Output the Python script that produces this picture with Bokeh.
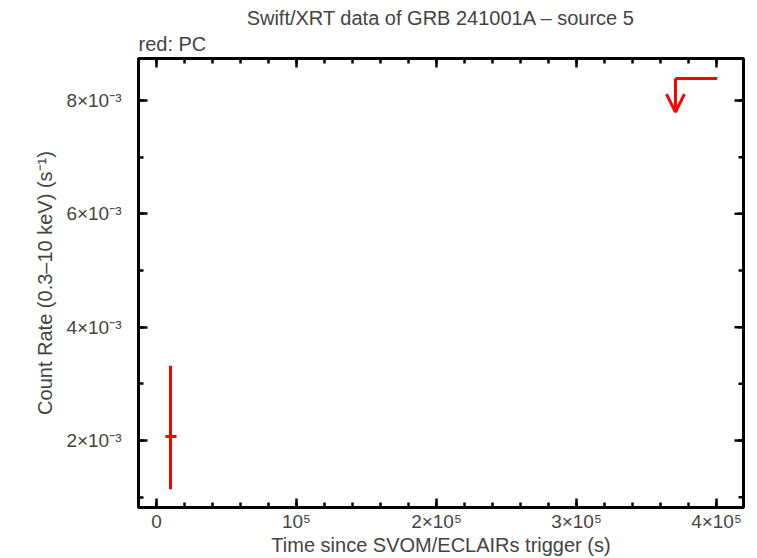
import numpy as np
from bokeh.plotting import figure
from bokeh.models import (FixedTicker, Range1d, Title, Arrow, OpenHead,
                          ColumnDataSource)
from bokeh.embed import file_html
from bokeh.resources import INLINE

# ---------------- data ----------------
PC_TIME = [10000.0]
PC_TIME_LO = [6400.0]
PC_TIME_HI = [14300.0]
PC_RATE = [2.07e-3]
PC_RATE_LO = [1.14e-3]
PC_RATE_HI = [3.32e-3]

UL_TIME_LO = [370700.0]
UL_TIME_HI = [400500.0]
UL_RATE = [8.39e-3]

X_TICKS = [0.0, 100000.0, 200000.0, 300000.0, 400000.0]
X_TICK_LABELS = ["0", "10\u2075", "2\u00d710\u2075", "3\u00d710\u2075", "4\u00d710\u2075"]
Y_TICKS = [0.002, 0.004, 0.006, 0.008]
Y_TICK_LABELS = ["2\u00d710\u207b\u00b3", "4\u00d710\u207b\u00b3",
                 "6\u00d710\u207b\u00b3", "8\u00d710\u207b\u00b3"]

TITLE = "Swift/XRT data of GRB 241001A \u2013 source 5"
SUBTITLE = "red: PC"
X_LABEL = "Time since SVOM/ECLAIRs trigger (s)"
Y_LABEL = "Count Rate (0.3\u201310 keV) (s\u207b\u00b9)"

FONT = "Liberation Sans"
FS_TICK = "19px"
FS_LAB = "20px"
RED = "#ff0000"

X_START, X_END = -12860.0, 419300.0
Y_START, Y_END = 0.818e-3, 8.741e-3

p = figure(width=757, height=558, output_backend="svg", toolbar_location=None,
           x_range=Range1d(X_START, X_END), y_range=Range1d(Y_START, Y_END),
           min_border_left=138, min_border_right=14, min_border_top=58,
           min_border_bottom=51)
p.background_fill_color = "white"
p.border_fill_color = "white"
p.grid.visible = False
p.outline_line_color = "black"
p.outline_line_width = 3

p.title.text = TITLE
p.title.align = "center"
p.title.text_font = FONT
p.title.text_font_size = FS_LAB
p.title.text_font_style = "normal"
p.title.standoff = -3
p.add_layout(Title(text=SUBTITLE, align="left", text_font=FONT,
                   text_font_size=FS_LAB, text_font_style="normal", standoff=7), "above")

x_minor = list(np.arange(-20000, 420001, 20000))
y_minor = list(np.arange(0.001, 0.0091, 0.001))
xt = FixedTicker(ticks=X_TICKS, minor_ticks=x_minor)
yt = FixedTicker(ticks=Y_TICKS, minor_ticks=y_minor)

TICK_W = 2.5


def style_axis(ax):
    ax.axis_line_width = 3
    ax.major_tick_line_width = TICK_W
    ax.minor_tick_line_width = TICK_W
    ax.major_tick_in = 9
    ax.major_tick_out = 0
    ax.minor_tick_in = 5
    ax.minor_tick_out = 0
    ax.major_label_text_font = FONT
    ax.major_label_text_font_size = FS_TICK
    ax.axis_label_text_font = FONT
    ax.axis_label_text_font_size = FS_LAB
    ax.axis_label_text_font_style = "normal"


xa = p.xaxis[0]
xa.ticker = xt
xa.major_label_overrides = dict(zip(X_TICKS, X_TICK_LABELS))
xa.axis_label = X_LABEL
style_axis(xa)
xa.major_label_standoff = 3
xa.axis_label_standoff = -1

ya = p.yaxis[0]
ya.ticker = yt
ya.major_label_overrides = dict(zip(Y_TICKS, Y_TICK_LABELS))
ya.axis_label = Y_LABEL
style_axis(ya)
ya.major_label_standoff = 17
ya.axis_label_standoff = 7

# mirrored ticks on the top and right frame edges
x_minor_in = [v for v in x_minor if X_START <= v <= X_END]
y_minor_in = [v for v in y_minor if Y_START <= v <= Y_END]
p.ray(x=X_TICKS, y=[Y_END] * len(X_TICKS), length=9, length_units="screen",
      angle=-np.pi / 2, line_color="black", line_width=TICK_W)
p.ray(x=x_minor_in, y=[Y_END] * len(x_minor_in), length=5, length_units="screen",
      angle=-np.pi / 2, line_color="black", line_width=TICK_W)
p.ray(x=[X_END] * len(Y_TICKS), y=Y_TICKS, length=9, length_units="screen",
      angle=np.pi, line_color="black", line_width=TICK_W)
p.ray(x=[X_END] * len(y_minor_in), y=y_minor_in, length=5, length_units="screen",
      angle=np.pi, line_color="black", line_width=TICK_W)

# PC point with error bars
pc = ColumnDataSource(dict(t=PC_TIME, tlo=PC_TIME_LO, thi=PC_TIME_HI,
                           r=PC_RATE, rlo=PC_RATE_LO, rhi=PC_RATE_HI))
p.segment(x0="t", y0="rlo", x1="t", y1="rhi", source=pc, line_color=RED, line_width=3)
p.segment(x0="tlo", y0="r", x1="thi", y1="r", source=pc, line_color=RED, line_width=3)

# PC upper limit
ARROW_FRAC = 0.075  # arrow length as a fraction of the y span
span = Y_END - Y_START
ul = ColumnDataSource(dict(tlo=UL_TIME_LO, thi=UL_TIME_HI, r=UL_RATE,
                           rend=[v - ARROW_FRAC * span for v in UL_RATE]))
p.segment(x0="tlo", y0="r", x1="thi", y1="r", source=ul, line_color=RED, line_width=3)
p.add_layout(Arrow(x_start="tlo", y_start="r", x_end="tlo", y_end="rend", source=ul,
                   line_color=RED, line_width=3,
                   end=OpenHead(size=18, line_color=RED, line_width=3)))

open("out.html", "w").write(file_html(p, INLINE))
